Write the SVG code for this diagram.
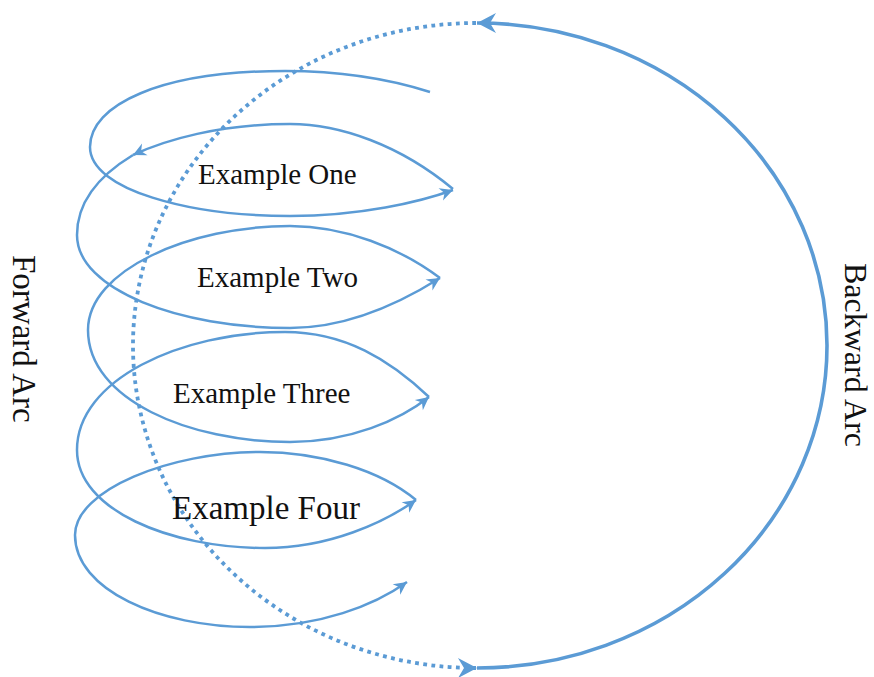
<svg xmlns="http://www.w3.org/2000/svg" width="874" height="677" viewBox="0 0 874 677">
  <style>
    .label { font-family: "Liberation Serif", "Times New Roman", serif; fill: #111; }
    .spiral { fill: none; stroke: #5B9BD5; stroke-width: 2.5; }
    .back { fill: none; stroke: #5B9BD5; stroke-width: 3.6; }
    .dots { fill: none; stroke: #5B9BD5; stroke-width: 3.8; stroke-dasharray: 3.8 4.4; }
  </style>
  <defs>
    <marker id="tip" markerUnits="userSpaceOnUse" markerWidth="15" markerHeight="13" refX="13" refY="6.5" orient="auto" overflow="visible">
      <path d="M0,0 L13,6.5 L0,13 L4,6.5 Z" fill="#5B9BD5"/>
    </marker>
    <marker id="bigtip" markerUnits="userSpaceOnUse" markerWidth="20" markerHeight="20" refX="19" refY="10" orient="auto" overflow="visible">
      <path d="M0,0 L19,10 L0,20 L6,10 Z" fill="#5B9BD5"/>
    </marker>
  </defs>
  <rect width="874" height="677" fill="#fff"/>

  <g id="connectors">
    <!-- outer return arc (solid) and forward arc (dotted) -->
    <path class="back" d="M477,668 A350,322.5 0 0 0 827,345.5 A350,322.5 0 0 0 477,23" marker-end="url(#bigtip)"/>
    <path class="dots" d="M476,23 A343,322.5 0 0 0 133,345.5 A343,322.5 0 0 0 477,668" marker-end="url(#bigtip)"/>

    <!-- spiral loops -->
    <path class="spiral" d="M430,92 C380,76 330,71 285,71 C160,71 90,105 90,147 C90,190 190,216 290,216 C360,216 420,202 453,190" marker-end="url(#tip)"/>
    <path class="spiral" d="M453,189 C400,145 340,124 290,124 C220,124 165,140 133,155" marker-end="url(#tip)"/>
    <path class="spiral" d="M133,155 C95,178 77,205 77,235 C77,290 180,328 290,328 C350,328 405,300 440,278" marker-end="url(#tip)"/>
    <path class="spiral" d="M440,278 C400,248 345,226 290,226 C190,226 88,270 88,330 C88,400 190,442 290,442 C350,442 400,420 429,397" marker-end="url(#tip)"/>
    <path class="spiral" d="M429,397 C390,360 345,332 285,332 C180,332 77,380 77,450 C77,510 170,548 265,548 C330,548 385,522 416,500" marker-end="url(#tip)"/>
    <path class="spiral" d="M416,500 C380,470 320,452 260,452 C170,452 75,490 75,535 C75,590 160,627 250,627 C320,627 375,605 407,582" marker-end="url(#tip)"/>
  </g>

  <g id="example-one"><text class="label" x="198" y="184" font-size="29">Example One</text></g>
  <g id="example-two"><text class="label" x="197" y="287" font-size="29">Example Two</text></g>
  <g id="example-three"><text class="label" x="173" y="403" font-size="29">Example Three</text></g>
  <g id="example-four"><text class="label" x="172" y="519" font-size="33">Example Four</text></g>

  <g id="forward-arc"><text class="label" font-size="33" transform="translate(13,255) rotate(90)">Forward Arc</text></g>
  <g id="backward-arc"><text class="label" font-size="32" transform="translate(845,263) rotate(90)">Backward Arc</text></g>
</svg>
